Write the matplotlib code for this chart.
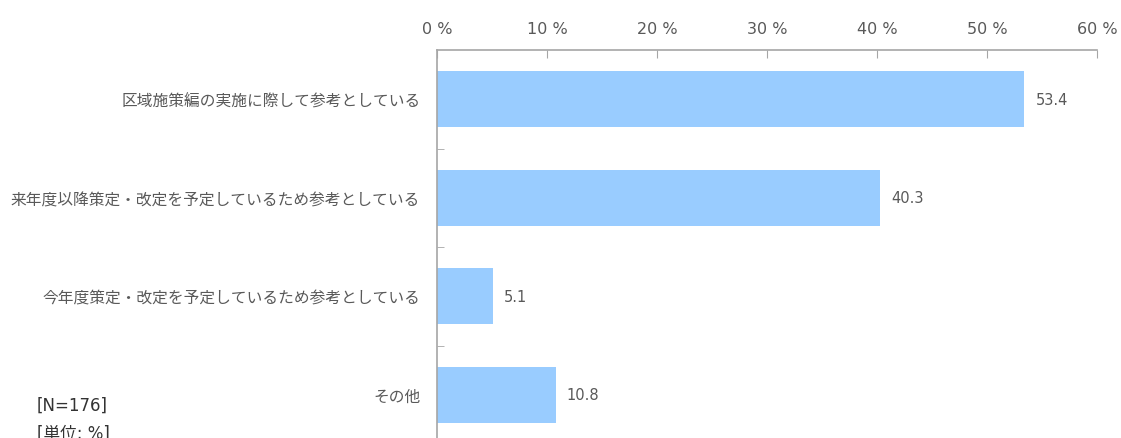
import matplotlib.pyplot as plt

plt.rcParams['font.family'] = ['Noto Sans CJK JP', 'DejaVu Sans']

categories = [
    "区域施策編の実施に際して参考としている",
    "来年度以降策定・改定を予定しているため参考としている",
    "今年度策定・改定を予定しているため参考としている",
    "その他",
]
values = [53.4, 40.3, 5.1, 10.8]
x_ticks = [0, 10, 20, 30, 40, 50, 60]

text_color = "#595959"
axis_color = "#A6A6A6"
bar_color = "#99CCFF"

fig = plt.figure(figsize=(11.21, 4.39), dpi=100)
ax = fig.add_axes([0.3898, -0.0137, 0.5888, 0.8975])

pos = list(range(len(categories)))
ax.barh(pos, values, height=0.57, color=bar_color)
ax.set_ylim(len(categories) - 0.5, -0.5)
ax.set_xlim(0, 60)

for p, v in zip(pos, values):
    ax.text(v + 1.0, p, f"{v:.1f}", va="center", ha="left",
            fontsize=10.5, color=text_color, family="DejaVu Sans")

ax.xaxis.tick_top()
ax.set_xticks(x_ticks)
ax.set_xticklabels([f"{t} %" for t in x_ticks], family="DejaVu Sans")
ax.tick_params(axis="x", direction="in", length=6, color=axis_color,
               labelcolor=text_color, labelsize=11.5, pad=10)

ax.set_yticks([p + 0.5 for p in pos[:-1]], minor=True)
ax.set_yticks(pos)
ax.set_yticklabels(categories)
ax.tick_params(axis="y", which="major", length=0, pad=12,
               labelcolor=text_color, labelsize=11.3)
ax.tick_params(axis="y", which="minor", direction="in", length=5, color=axis_color)

for side in ["right", "bottom"]:
    ax.spines[side].set_visible(False)
for side in ["left", "top"]:
    ax.spines[side].set_color(axis_color)
    ax.spines[side].set_linewidth(1.2)

note_font = ['DejaVu Sans', 'Noto Sans CJK JP']
fig.text(0.033, 0.075, "[N=176]", fontsize=12, color="#333333", va="center",
         family=note_font)
fig.text(0.033, 0.012, "[単位: %]", fontsize=12, color="#333333", va="center",
         family=note_font)

fig.savefig("out.png", dpi=100)
